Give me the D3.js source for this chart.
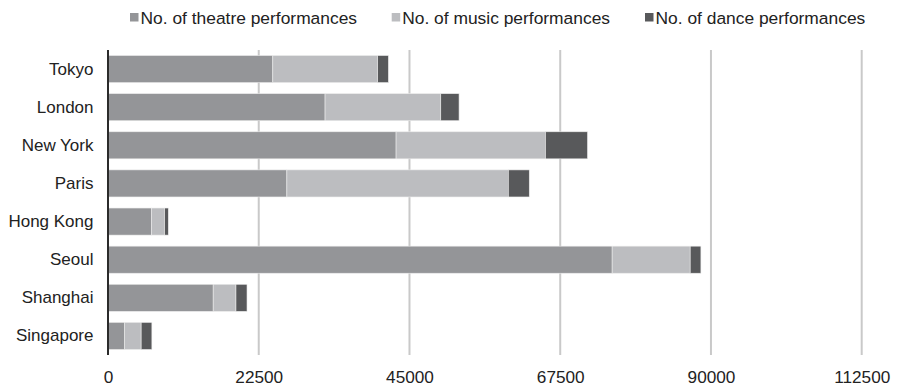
<!DOCTYPE html>
<html>
<head>
<meta charset="utf-8">
<script src="https://cdn.jsdelivr.net/npm/d3@7"></script>
<style>
  html, body { margin: 0; padding: 0; background: #fff; }
  svg { display: block; font-family: "Liberation Sans", Arial, sans-serif; }
</style>
</head>
<body>
<svg id="chart" width="898" height="386"></svg>
<script>
// Performances per city, stacked by type
const cities = ["Tokyo", "London", "New York", "Paris", "Hong Kong", "Seoul", "Shanghai", "Singapore"];
const theatre = [24600, 32400, 43000, 26700, 6500, 75250, 15700, 2450];
const music = [15650, 17270, 22300, 33050, 1950, 11650, 3400, 2500];
const dance = [1600, 2730, 6270, 3130, 550, 1600, 1650, 1600];
const seriesNames = ["No. of theatre performances", "No. of music performances", "No. of dance performances"];
const seriesColors = ["#949598", "#bcbdc0", "#58595b"];
const tickValues = [0, 22500, 45000, 67500, 90000, 112500];

(function () {
  const svg = d3.select("#chart");
  const plotLeft = 108, plotRight = 861.7, plotTop = 50, plotBottom = 355;

  const x = d3.scaleLinear().domain([0, 112500]).range([plotLeft, plotRight]);
  const y = d3.scaleBand().domain(cities).range([plotTop, plotBottom])
    .paddingInner(0.29).paddingOuter(0.145);

  // Vertical gridlines
  svg.append("g").selectAll("line")
    .data(tickValues.slice(1))
    .join("line")
    .attr("x1", d => x(d)).attr("x2", d => x(d))
    .attr("y1", plotTop).attr("y2", plotBottom)
    .attr("stroke", "#c9c9c9").attr("stroke-width", 2);

  // Stacked bars
  const rows = cities.map((c, i) => ({ city: c, theatre: theatre[i], music: music[i], dance: dance[i] }));
  const stack = d3.stack().keys(["theatre", "music", "dance"])(rows);

  svg.append("g").selectAll("g")
    .data(stack)
    .join("g")
    .attr("fill", (d, i) => seriesColors[i])
    .selectAll("rect")
    .data(d => d)
    .join("rect")
    .attr("x", d => x(d[0]))
    .attr("width", d => x(d[1]) - x(d[0]))
    .attr("y", d => y(d.data.city))
    .attr("height", y.bandwidth())
    .attr("stroke", "#ececec")
    .attr("stroke-width", 0.6);

  // Category axis line
  svg.append("line")
    .attr("x1", plotLeft).attr("x2", plotLeft)
    .attr("y1", plotTop).attr("y2", plotBottom)
    .attr("stroke", "#2b2b2b").attr("stroke-width", 2);

  // Category labels
  const yAxis = d3.axisLeft(y).tickSize(0).tickPadding(14.5);
  const gy = svg.append("g").attr("transform", `translate(${plotLeft},0)`).call(yAxis);
  gy.select(".domain").remove();
  gy.selectAll("text")
    .attr("font-size", 17).attr("fill", "#222")
    .attr("font-family", "'Liberation Sans', Arial, sans-serif");

  // Value axis labels
  const xAxis = d3.axisBottom(x).tickValues(tickValues).tickSize(0).tickPadding(0)
    .tickFormat(d3.format("d"));
  const gx = svg.append("g").attr("transform", `translate(0,${plotBottom})`).call(xAxis);
  gx.select(".domain").remove();
  gx.selectAll("text")
    .attr("dy", null).attr("y", 27.5)
    .attr("font-size", 17.2).attr("fill", "#222")
    .attr("font-family", "'Liberation Sans', Arial, sans-serif");

  // Legend
  const legendX = [130, 391.7, 645];
  const legend = svg.append("g").selectAll("g")
    .data(seriesNames)
    .join("g")
    .attr("transform", (d, i) => `translate(${legendX[i]},0)`);
  legend.append("rect")
    .attr("x", 0).attr("y", 13).attr("width", 8.5).attr("height", 8.5)
    .attr("fill", (d, i) => seriesColors[i]);
  legend.append("text")
    .attr("x", 10.5).attr("y", 24)
    .attr("font-size", 17.4).attr("fill", "#222")
    .text(d => d);
})();
</script>
</body>
</html>
